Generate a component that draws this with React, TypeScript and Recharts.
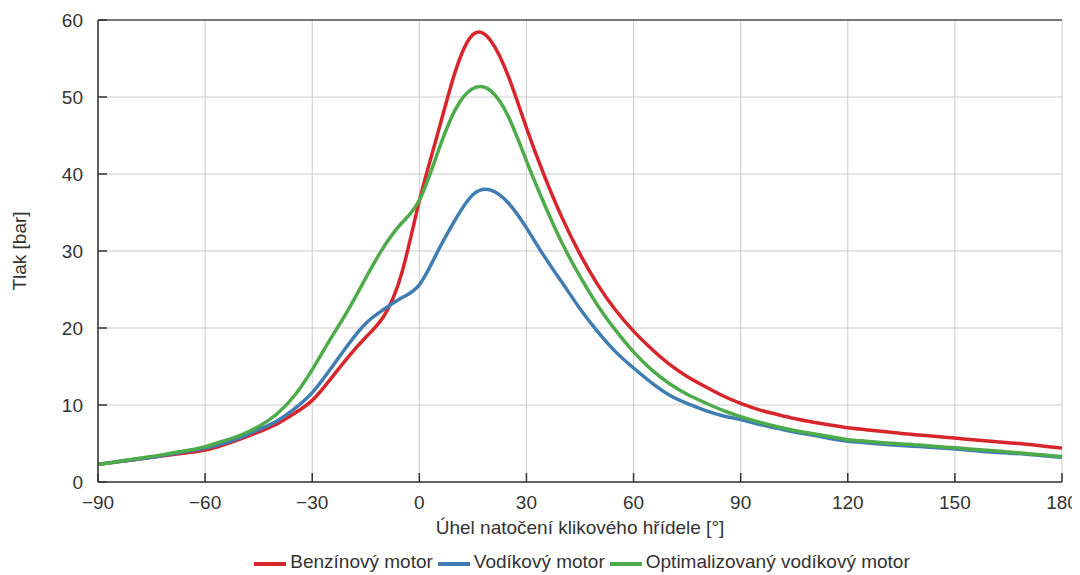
import React from 'react';
import { LineChart, Line, XAxis, YAxis, CartesianGrid, Legend, ReferenceLine } from 'recharts';

const angles = [-90, -85, -80, -75, -70, -65, -60, -55, -50, -45, -40, -35, -30, -25, -20, -15, -10, -5, 0, 5, 10, 15, 20, 25, 30, 35, 40, 45, 50, 55, 60, 65, 70, 75, 80, 85, 90, 95, 100, 105, 110, 115, 120, 125, 130, 135, 140, 145, 150, 155, 160, 165, 170, 175, 180];
const benzin = [2.3, 2.6, 2.9, 3.2, 3.5, 3.8, 4.15, 4.8, 5.6, 6.5, 7.5, 8.9, 10.6, 13.3, 16.2, 18.8, 21.5, 27.0, 36.5, 45.0, 53.2, 58.1, 57.3, 52.6, 46.0, 39.8, 34.3, 29.6, 25.6, 22.3, 19.6, 17.3, 15.3, 13.7, 12.4, 11.2, 10.2, 9.4, 8.8, 8.25, 7.8, 7.4, 7.05, 6.8, 6.55, 6.3, 6.1, 5.9, 5.7, 5.5, 5.3, 5.1, 4.9, 4.65, 4.4];
const vodik = [2.3, 2.6, 2.9, 3.2, 3.6, 4.0, 4.4, 5.0, 5.8, 6.8, 7.9, 9.5, 11.6, 14.6, 17.8, 20.6, 22.4, 23.9, 25.6, 29.8, 34.0, 37.3, 37.9, 36.2, 33.0, 29.3, 25.9, 22.5, 19.5, 16.9, 14.8, 12.9, 11.3, 10.2, 9.3, 8.6, 8.1, 7.5, 7.0, 6.5, 6.1, 5.65, 5.3, 5.1, 4.9, 4.75, 4.6, 4.45, 4.3, 4.1, 3.9, 3.75, 3.6, 3.4, 3.2];
const optim = [2.3, 2.6, 3.0, 3.3, 3.7, 4.1, 4.6, 5.3, 6.1, 7.2, 8.8, 11.2, 14.6, 18.5, 22.3, 26.5, 30.5, 33.6, 36.6, 42.6, 48.3, 51.1, 50.8, 47.4, 41.7, 36.1, 31.0, 26.7, 22.9, 19.7, 16.9, 14.6, 12.8, 11.4, 10.3, 9.3, 8.5, 7.8, 7.2, 6.7, 6.3, 5.9, 5.5, 5.3, 5.1, 4.95, 4.8, 4.6, 4.45, 4.25, 4.1, 3.9, 3.7, 3.5, 3.3];

const xTicks = [-90, -60, -30, 0, 30, 60, 90, 120, 150, 180];
const yTicks = [0, 10, 20, 30, 40, 50, 60];

const seriesNames = ['Benzínový motor', 'Vodíkový motor', 'Optimalizovaný vodíkový motor'];
const seriesColors = ['#d7262b', '#3f7db3', '#4dab49'];

const xTitle = 'Úhel natočení klikového hřídele [°]';
const yTitle = 'Tlak [bar]';

const data = angles.map((a, i) => ({ angle: a, benzin: benzin[i], vodik: vodik[i], optim: optim[i] }));

const FONT = 'Liberation Sans, Arial, sans-serif';
const FS = 19;
const TEXT_COLOR = '#333';

const fmt = (v: number) => String(v).replace('-', '\u2212');

const XTick = (props: any) => {
  const { x, y, payload } = props;
  return (
    <g>
      <line x1={x} y1={y} x2={x} y2={y - 9} stroke="#333" strokeWidth={1.5} />
      <text x={x} y={y + 27} textAnchor="middle" fontFamily={FONT} fontSize={FS} fill={TEXT_COLOR}>
        {fmt(payload.value)}
      </text>
    </g>
  );
};

const YTick = (props: any) => {
  const { x, y, payload } = props;
  return (
    <g>
      <line x1={x} y1={y} x2={x + 9} y2={y} stroke="#333" strokeWidth={1.5} />
      <text x={x - 15} y={y + 6.8} textAnchor="end" fontFamily={FONT} fontSize={FS} fill={TEXT_COLOR}>
        {fmt(payload.value)}
      </text>
    </g>
  );
};

const LegendContent = () => (
  <div style={{ display: 'flex', justifyContent: 'center', alignItems: 'center', height: 26, fontFamily: FONT, fontSize: FS, color: TEXT_COLOR, whiteSpace: 'nowrap' }}>
    {seriesNames.map((n, i) => (
      <div key={n} style={{ display: 'flex', alignItems: 'center', marginRight: i < 2 ? 5 : 0 }}>
        <div style={{ width: 32, height: 4, background: seriesColors[i], marginRight: 4, marginTop: 3 }} />
        <span>{n}</span>
      </div>
    ))}
  </div>
);

export default function App() {
  return (
    <div style={{ width: 1072, height: 567, overflow: 'visible' }}>
      <style>{'body{overflow:hidden;} svg.recharts-surface{overflow:visible;}'}</style>
      <LineChart width={1072} height={567} data={data} margin={{ top: 12, right: 18, left: 0, bottom: 0 }} style={{ overflow: 'visible' }}>
        <CartesianGrid stroke="#cccccc" strokeWidth={1} />
        <XAxis
          dataKey="angle"
          type="number"
          domain={[-90, 180]}
          ticks={xTicks}
          interval={0}
          height={67}
          tickSize={0}
          tickMargin={0}
          tickLine={false}
          tick={<XTick />}
          axisLine={{ stroke: '#333', strokeWidth: 1.5 }}
          label={{ value: xTitle, position: 'insideTop', offset: 39, style: { fontFamily: FONT, fontSize: FS, fill: TEXT_COLOR } }}
        />
        <YAxis
          type="number"
          domain={[0, 60]}
          ticks={yTicks}
          interval={0}
          width={90}
          tickSize={0}
          tickMargin={0}
          tickLine={false}
          tick={<YTick />}
          axisLine={{ stroke: '#333', strokeWidth: 1.5 }}
          label={{ value: yTitle, angle: -90, position: 'insideLeft', offset: 11, style: { textAnchor: 'middle', fontFamily: FONT, fontSize: FS, fill: TEXT_COLOR } }}
        />
        <ReferenceLine y={60} stroke="#555" strokeWidth={1.5} />
        <Legend verticalAlign="bottom" content={<LegendContent />} wrapperStyle={{ left: 90, width: 968 }} />
        <Line type="natural" dataKey="benzin" name={seriesNames[0]} stroke={seriesColors[0]} strokeWidth={3.5} dot={false} isAnimationActive={false} />
        <Line type="natural" dataKey="vodik" name={seriesNames[1]} stroke={seriesColors[1]} strokeWidth={3.5} dot={false} isAnimationActive={false} />
        <Line type="natural" dataKey="optim" name={seriesNames[2]} stroke={seriesColors[2]} strokeWidth={3.5} dot={false} isAnimationActive={false} />
      </LineChart>
    </div>
  );
}
